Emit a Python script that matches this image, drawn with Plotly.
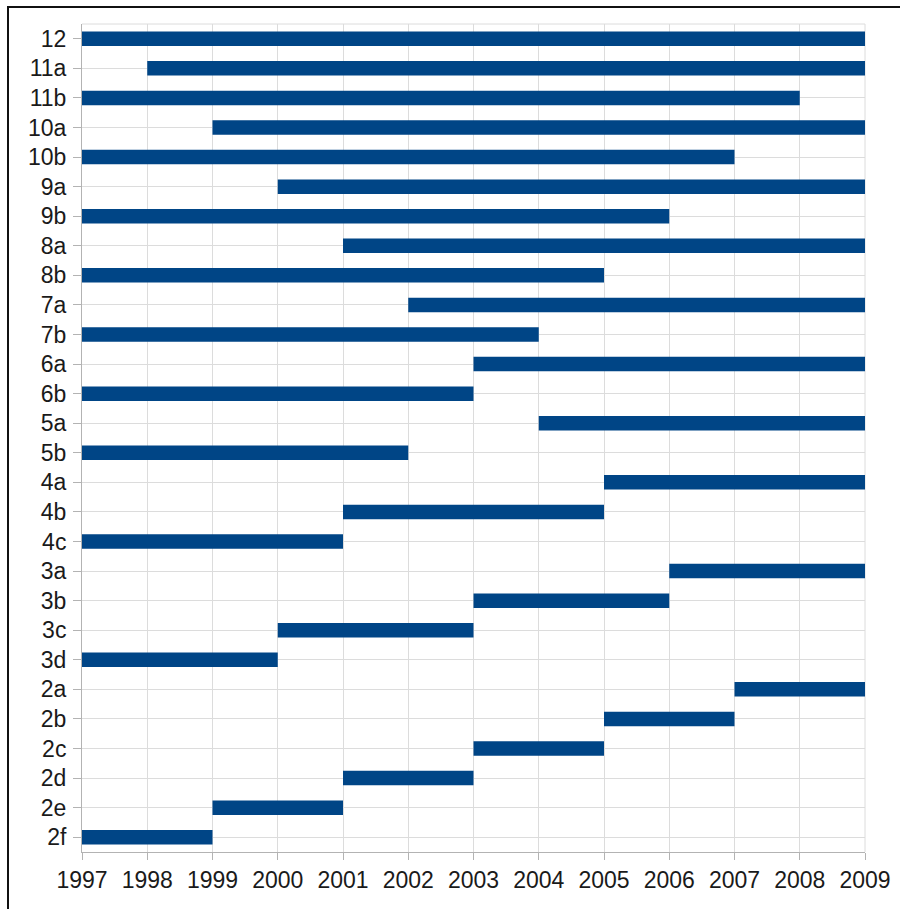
import plotly.graph_objects as go

# Series labels, top to bottom
labels = ["12", "11a", "11b", "10a", "10b", "9a", "9b", "8a", "8b", "7a", "7b",
          "6a", "6b", "5a", "5b", "4a", "4b", "4c", "3a", "3b", "3c", "3d",
          "2a", "2b", "2c", "2d", "2e", "2f"]
start_year = [1997, 1998, 1997, 1999, 1997, 2000, 1997, 2001, 1997, 2002, 1997,
              2003, 1997, 2004, 1997, 2005, 2001, 1997, 2006, 2003, 2000, 1997,
              2007, 2005, 2003, 2001, 1999, 1997]
end_year = [2009, 2009, 2008, 2009, 2007, 2009, 2006, 2009, 2005, 2009, 2004,
            2009, 2003, 2009, 2002, 2009, 2005, 2001, 2009, 2006, 2003, 2000,
            2009, 2007, 2005, 2003, 2001, 1999]
year_ticks = list(range(1997, 2010))

durations = [e - s for s, e in zip(start_year, end_year)]

W, H = 900, 909
ML, MR, MT, MB = 82, 35, 24, 57
pw, ph = W - ML - MR, H - MT - MB

fig = go.Figure(go.Bar(
    y=labels,
    x=durations,
    base=start_year,
    orientation="h",
    width=0.49,
    marker=dict(color="#004586", line=dict(width=0)),
    hoverinfo="skip",
))

fig.update_layout(
    width=W, height=H,
    margin=dict(l=ML, r=MR, t=MT, b=MB, pad=0, autoexpand=False),
    paper_bgcolor="white",
    plot_bgcolor="white",
    showlegend=False,
    font=dict(family="Liberation Sans, Arial, sans-serif", size=23, color="#1a1a1a"),
    xaxis=dict(
        range=[1997, 2009],
        tickmode="array",
        tickvals=year_ticks,
        ticktext=[str(y) for y in year_ticks],
        showgrid=True, gridcolor="#dcdcdc", gridwidth=1,
        showline=True, linecolor="#b3b3b3", linewidth=1,
        ticks="outside", ticklen=7, tickcolor="#b3b3b3", tickwidth=1,
        zeroline=False,
        automargin=False,
        fixedrange=True,
    ),
    yaxis=dict(
        type="category",
        categoryorder="array",
        categoryarray=labels,
        autorange=False,
        range=[len(labels) - 0.5, -0.5],
        showgrid=True, gridcolor="#dcdcdc", gridwidth=1,
        showline=True, linecolor="#b3b3b3", linewidth=1,
        ticks="outside", ticklen=8, tickcolor="#b3b3b3", tickwidth=1,
        ticklabelstandoff=2,
        zeroline=False,
        automargin=False,
        fixedrange=True,
    ),
    shapes=[
        # light frame on the top and right of the plot area
        dict(type="line", xref="paper", yref="paper", x0=0, x1=1, y0=1, y1=1,
             line=dict(color="#dcdcdc", width=1), layer="below"),
        dict(type="line", xref="paper", yref="paper", x0=1, x1=1, y0=0, y1=1,
             line=dict(color="#dcdcdc", width=1), layer="below"),
        # outer black frame (runs off the right and bottom edges)
        dict(type="rect", xref="paper", yref="paper",
             x0=(8 - ML) / pw, x1=(906 - ML) / pw,
             y0=(H - MB - 914) / ph, y1=1 + (MT - 7) / ph,
             line=dict(color="#111111", width=2), fillcolor="rgba(0,0,0,0)"),
    ],
)

fig.write_html("out.html")
